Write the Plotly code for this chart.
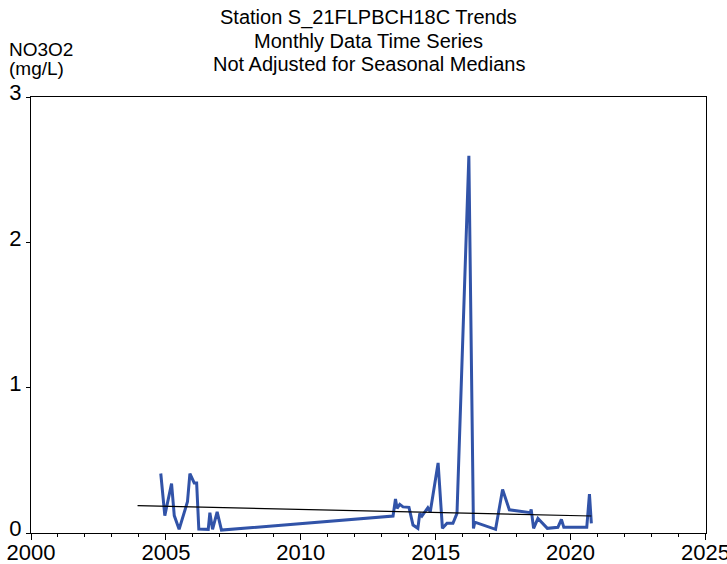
import plotly.graph_objects as go

# decimal year of each monthly sample and its NO3O2 value (mg/L)
sample_year = [2004.81, 2004.96, 2005.21, 2005.31, 2005.49, 2005.64, 2005.80, 2005.89,
               2006.05, 2006.14, 2006.22, 2006.57, 2006.63, 2006.73, 2006.90, 2007.06,
               2013.42, 2013.51, 2013.57, 2013.67, 2013.79, 2014.01, 2014.16, 2014.34,
               2014.41, 2014.49, 2014.71, 2014.80, 2015.09, 2015.25, 2015.42, 2015.64,
               2015.79, 2016.23, 2016.40, 2016.45, 2017.22, 2017.48, 2017.73, 2018.51,
               2018.54, 2018.63, 2018.79, 2019.14, 2019.53, 2019.66, 2019.75, 2020.60,
               2020.70, 2020.77]
no3o2 = [0.41, 0.12, 0.34, 0.12, 0.025, 0.12, 0.215, 0.41,
         0.345, 0.345, 0.027, 0.025, 0.14, 0.025, 0.146, 0.02,
         0.117, 0.234, 0.17, 0.197, 0.18, 0.177, 0.055, 0.032,
         0.135, 0.117, 0.174, 0.146, 0.483, 0.032, 0.067, 0.067,
         0.135, 2.60, 0.032, 0.075, 0.025, 0.30, 0.16, 0.14,
         0.163, 0.032, 0.10, 0.032, 0.039, 0.094, 0.039, 0.039,
         0.268, 0.067]

# fitted trend line end points
trend_year = [2003.95, 2020.77]
trend_value = [0.188, 0.117]

x_ticks = [2000, 2005, 2010, 2015, 2020, 2025]
y_ticks = [0, 1, 2, 3]

font = "Liberation Sans, Arial, sans-serif"

fig = go.Figure()
fig.add_trace(go.Scatter(x=sample_year, y=no3o2, mode="lines",
                         line=dict(color="#3153A8", width=3)))
fig.add_trace(go.Scatter(x=trend_year, y=trend_value, mode="lines",
                         line=dict(color="black", width=1.2)))

fig.update_layout(
    width=727, height=564,
    margin=dict(l=31, r=21, t=97, b=31),
    paper_bgcolor="white", plot_bgcolor="white",
    showlegend=False,
    font=dict(family=font, color="black", size=22),
    xaxis=dict(range=[2000, 2025.02], tickvals=x_ticks, ticks="outside", ticklen=6,
               tickcolor="black", showgrid=False, zeroline=False, automargin=False,
               showline=True, linecolor="black", linewidth=1, mirror=True,
               tickfont=dict(size=22), ticklabeloverflow="allow",
               ticklabelstandoff=-6,
               minor=dict(dtick=1, ticks="outside", ticklen=3, tickcolor="black")),
    yaxis=dict(range=[0, 3.005], tickvals=y_ticks, ticks="outside", ticklen=4,
               tickcolor="black", showgrid=False, zeroline=False, automargin=False,
               showline=True, linecolor="black", linewidth=1, mirror=True,
               tickfont=dict(size=22), ticklabelshift=-5),
)

titles = ["Station S_21FLPBCH18C Trends", "Monthly Data Time Series",
          "Not Adjusted for Seasonal Medians"]
for i, t in enumerate(titles):
    fig.add_annotation(text=t, xref="paper", yref="paper", x=0.5, y=1,
                       xanchor="center", yanchor="middle", showarrow=False,
                       yshift=80 - i * 23.5, font=dict(size=20))

for i, t in enumerate(["NO3O2", "(mg/L)"]):
    fig.add_annotation(text=t, xref="paper", yref="paper",
                       x=0, y=1, xanchor="left", yanchor="middle",
                       xshift=-24, yshift=48 - i * 19, showarrow=False,
                       font=dict(size=19))

# drop the browser's default body margin so the figure sits at the page corner
fig.write_html("out.html", config={"displayModeBar": False},
               post_script="document.body.style.margin='0';")
